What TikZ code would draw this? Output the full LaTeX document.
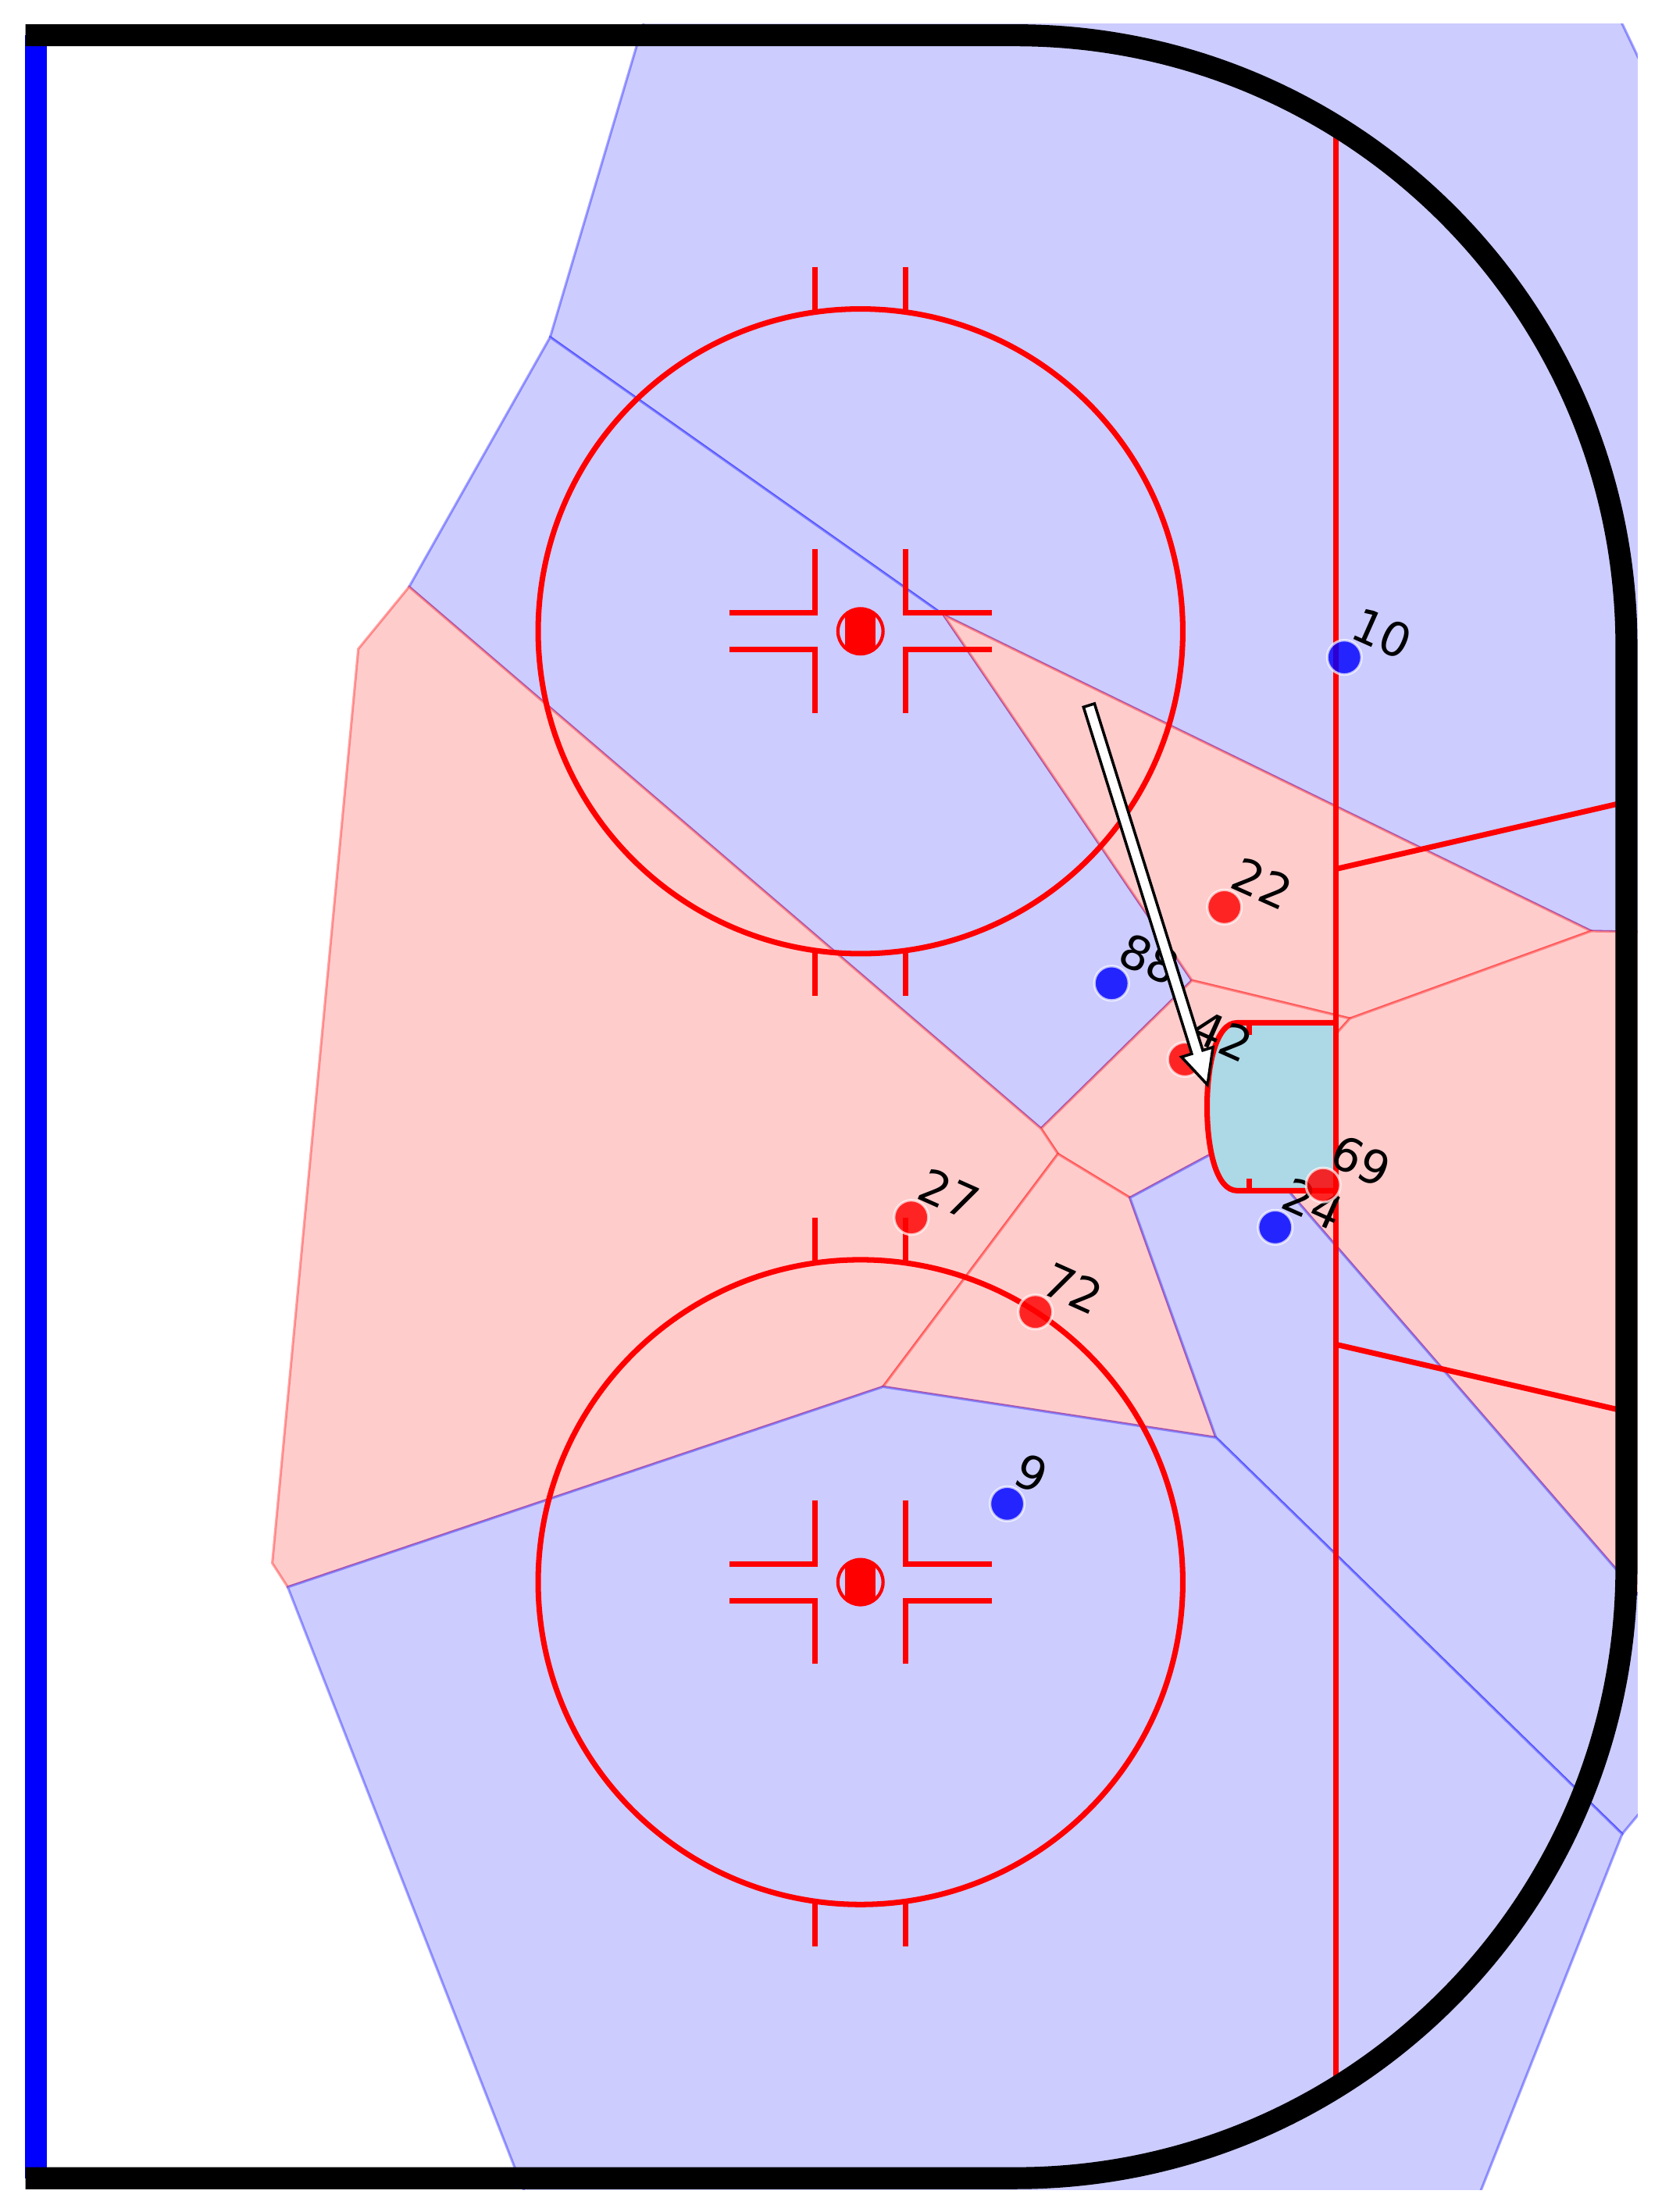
\documentclass[tikz,border=0pt]{standalone}
\usepackage{fontspec}
\setmainfont{DejaVu Sans}
\usetikzlibrary{calc}
\definecolor{Crease}{HTML}{ADD8E6}

\tikzset{
  redcell/.style={fill=red!20, draw=red, draw opacity=0.36, line width=0.9pt},
  bluecell/.style={fill=blue!20, draw=blue, draw opacity=0.36, line width=0.9pt},
  rinkline/.style={draw=red, line width=2pt},
  boards/.style={draw=black, line width=8pt},
  player/.style={circle, inner sep=0pt, minimum size=12.5pt, fill=#1,
    fill opacity=0.82, draw=white, draw opacity=0.7, line width=0.9pt},
  numlabel/.style={anchor=south west, inner sep=0pt, rotate=-24,
    font=\fontsize{17}{20}\selectfont}
}

\begin{document}
\begin{tikzpicture}[x=0.018056cm, y=-0.018056cm]
  \useasboundingbox (0,0) rectangle (1178,1568);

  % Voronoi vertices
  \coordinate (va) at (390,239);
  \coordinate (vb) at (290,416);
  \coordinate (vc) at (254,460);
  \coordinate (vd) at (193,1108);
  \coordinate (ve) at (204,1125);
  \coordinate (vf) at (626,983);
  \coordinate (vg) at (750,818);
  \coordinate (vh) at (738,800);
  \coordinate (vi) at (845,695);
  \coordinate (vj) at (669,436);
  \coordinate (vk) at (1128,660);
  \coordinate (vl) at (957,722);
  \coordinate (vm) at (801,849);
  \coordinate (vn) at (862,1019);
  \coordinate (vo) at (1150,1300);
  \coordinate (vt) at (880.5,806.3);

  % Voronoi cells
  \begin{scope}
    \clip (0,17) rectangle (1161,1552);
    \path[bluecell] (461,0) -- (1142,0) -- (1180,80) -- (1180,661) -- (vk) -- (vj) -- (va) -- cycle;
    \path[bluecell] (va) -- (vj) -- (vi) -- (vh) -- (vb) -- cycle;
    \path[redcell] (vj) -- (vk) -- (vl) -- (vi) -- cycle;
    \path[redcell] (vh) -- (vi) -- (vl) -- (vt) -- (vm) -- (vg) -- cycle;
    \path[redcell] (vb) -- (vh) -- (vg) -- (vf) -- (ve) -- (vd) -- (vc) -- cycle;
    \path[redcell] (vg) -- (vm) -- (vn) -- (vf) -- cycle;
    \path[redcell] (vl) -- (vk) -- (1180,661) -- (1180,1152) -- (vt) -- cycle;
    \path[bluecell] (vm) -- (vt) -- (1180,1152) -- (1180,1264) -- (vo) -- (vn) -- cycle;
    \path[bluecell] (ve) -- (vf) -- (vn) -- (vo) -- (1043,1570) -- (378,1570) -- cycle;
  \end{scope}

  % blue line
  \draw[blue, line width=8pt] (25.5,25) -- (25.5,1544);

  % faceoff circles
  \foreach \cy in {447.5,1121.5} {
    \draw[rinkline] (610,\cy) circle (228.5);
    \foreach \sx in {-1,1} {
      \draw[rinkline] (610+32*\sx,\cy-226.2) -- ++(0,-32);
      \draw[rinkline] (610+32*\sx,\cy+226.2) -- ++(0,32);
      \foreach \sy in {-1,1}
        \draw[rinkline] (610+32*\sx,\cy+58*\sy) -- (610+32*\sx,\cy+13*\sy)
          -- (610+93*\sx,\cy+13*\sy);
    }
    \draw[red, line width=1.2pt] (610,\cy) circle (16);
    \begin{scope}
      \clip (610,\cy) circle (16);
      \fill[red] (599.2,\cy-16) rectangle (620.8,\cy+16);
    \end{scope}
  }

  % crease
  \filldraw[fill=Crease, draw=red, line width=2pt] (947,725) -- (877,725)
    .. controls (862,725) and (855.7,755) .. (855.7,784.5)
    .. controls (855.7,814) and (862,844) .. (877,844) -- (947,844);
  \draw[rinkline] (885.6,725) -- ++(0,8.5);
  \draw[rinkline] (885.6,844) -- ++(0,-8.5);

  % goal line and trapezoid
  \draw[rinkline] (947,90) -- (947,1480);
  \draw[rinkline] (947,616) -- (1153,568.4);
  \draw[rinkline] (947,953) -- (1153,1000.6);

  % boards
  \draw[boards] (18,25) -- (720,25) arc (-90:0:433) -- (1153,1111)
    arc (0:90:433) -- (18,1544);

  % players
  \foreach \num/\px/\py/\team in {10/953/466/blue, 22/868/643/red,
      88/788/697/blue, 42/840/751/red, 27/646/863/red, 24/904/870/blue,
      69/938/840/red, 72/734/930/red, 9/714/1066/blue} {
    \node[player=\team] (p\num) at (\px,\py) {};
    \node[numlabel] (l\num) at ($(p\num)+(2,-14)$) {\num};
  }

  % puck movement
  \coordinate (passfrom) at (772,500);
  \coordinate (passto) at (856,769);
  \coordinate (headbase) at ($(passto)!12.5pt!(passfrom)$);
  \filldraw[fill=white, draw=black, line width=1pt]
    ($(passfrom)!2.1pt!90:(passto)$) -- ($(headbase)!2.1pt!90:(passto)$)
    -- ($(headbase)!6pt!90:(passto)$) -- (passto)
    -- ($(headbase)!6pt!-90:(passto)$) -- ($(headbase)!2.1pt!-90:(passto)$)
    -- ($(passfrom)!2.1pt!-90:(passto)$) -- cycle;
\end{tikzpicture}
\end{document}
